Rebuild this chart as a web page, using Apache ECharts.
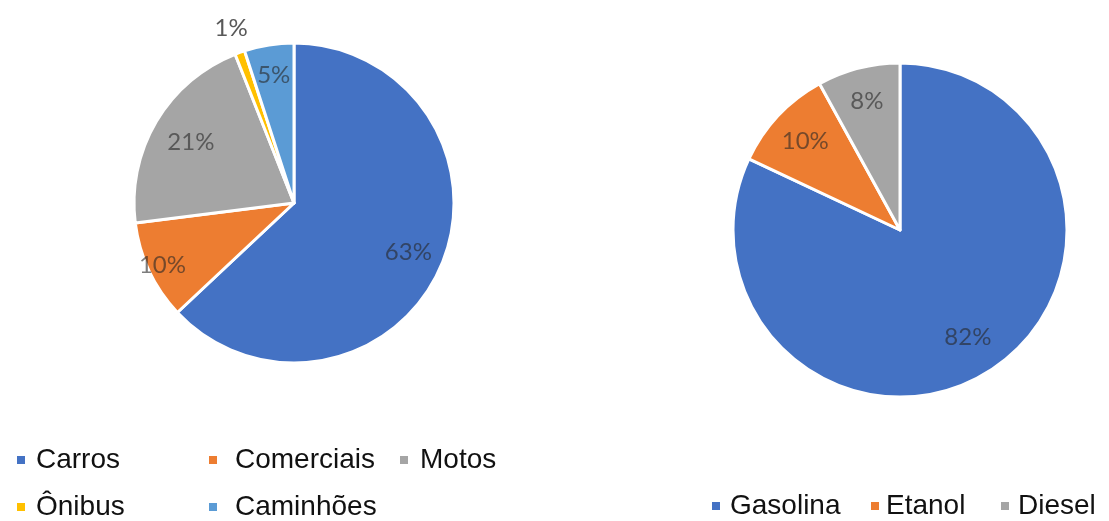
<!DOCTYPE html>
<html>
<head>
<meta charset="utf-8">
<script src="https://cdn.jsdelivr.net/npm/echarts@6/dist/echarts.min.js"></script>
<style>
  html, body { margin: 0; padding: 0; background: #ffffff; }
  #chart { width: 1109px; height: 521px; }
</style>
</head>
<body>
<div id="chart"></div>
<script>
// Frota por categoria de veículo (%)
const vehicleNames = ['Carros', 'Comerciais', 'Motos', 'Ônibus', 'Caminhões'];
const vehicleValues = [63, 10, 21, 1, 5];
const vehicleColors = ['#4472C4', '#ED7D31', '#A5A5A5', '#FFC000', '#5B9BD5'];

// Consumo por combustível (%)
const fuelNames = ['Gasolina', 'Etanol', 'Diesel'];
const fuelValues = [82, 10, 8];
const fuelColors = ['#4472C4', '#ED7D31', '#A5A5A5'];

// Layout: pie centers / radii and how far out each value label sits (fraction of radius)
const leftPie = { center: [294, 203], r: 160, labelDist: [0.76, 0.89, 0.73, 1.14, 0.79] };
const rightPie = { center: [900, 230], r: 167, labelDist: [0.74, 0.76, 0.78] };

const labelFont = 'Lato, "Open Sans", sans-serif';
const legendFont = '"Liberation Sans", Arial, sans-serif';

function mainPie(names, values, colors, cfg) {
  return {
    type: 'pie',
    center: cfg.center,
    radius: [0, cfg.r],
    startAngle: 90,
    clockwise: true,
    silent: true,
    label: { show: false },
    labelLine: { show: false },
    itemStyle: { borderColor: '#ffffff', borderWidth: 3 },
    data: values.map((v, i) => ({ name: names[i], value: v, itemStyle: { color: colors[i] } }))
  };
}

// Transparent ring carrying the value label of one slice at its mid-angle
function labelRing(values, cfg, idx) {
  const f = cfg.labelDist[idx];
  const t = 0.08;
  const outside = f > 1;
  return {
    type: 'pie',
    center: cfg.center,
    radius: [cfg.r * (f - t), cfg.r * (f + t)],
    startAngle: 90,
    clockwise: true,
    silent: true,
    avoidLabelOverlap: false,
    labelLine: { show: false },
    itemStyle: { color: 'rgba(0,0,0,0)', borderWidth: 0 },
    data: values.map((v, i) => ({
      value: v,
      label: {
        show: i === idx,
        position: 'inside',
        formatter: '{c}%',
        fontFamily: labelFont,
        fontSize: 24,
        color: outside ? '#595959' : 'rgba(38,38,38,0.6)'
      }
    }))
  };
}

const series = [
  mainPie(vehicleNames, vehicleValues, vehicleColors, leftPie),
  mainPie(fuelNames, fuelValues, fuelColors, rightPie)
];
vehicleValues.forEach((_, i) => series.push(labelRing(vehicleValues, leftPie, i)));
fuelValues.forEach((_, i) => series.push(labelRing(fuelValues, rightPie, i)));

function legendBlock(data, left, top, textPad) {
  return {
    data: data,
    left: left,
    top: top,
    orient: 'vertical',
    itemWidth: 10,
    itemHeight: 10,
    itemGap: 19,
    icon: 'rect',
    selectedMode: false,
    padding: 0,
    textStyle: {
      fontFamily: legendFont,
      fontSize: 28,
      color: '#111111',
      padding: [0, 0, 0, textPad]
    }
  };
}

const option = {
  backgroundColor: '#ffffff',
  animation: false,
  legend: [
    legendBlock(['Carros', 'Ônibus'], 15, 446, 5),
    legendBlock(['Comerciais', 'Caminhões'], 207, 446, 12),
    legendBlock(['Motos'], 398, 446, 6),
    legendBlock(['Gasolina'], 710, 492, 4),
    legendBlock(['Etanol'], 869, 492, 1),
    legendBlock(['Diesel'], 999, 492, 3)
  ],
  series: series
};

const chart = echarts.init(document.getElementById('chart'), null, { renderer: 'canvas' });
chart.setOption(option);
</script>
</body>
</html>
